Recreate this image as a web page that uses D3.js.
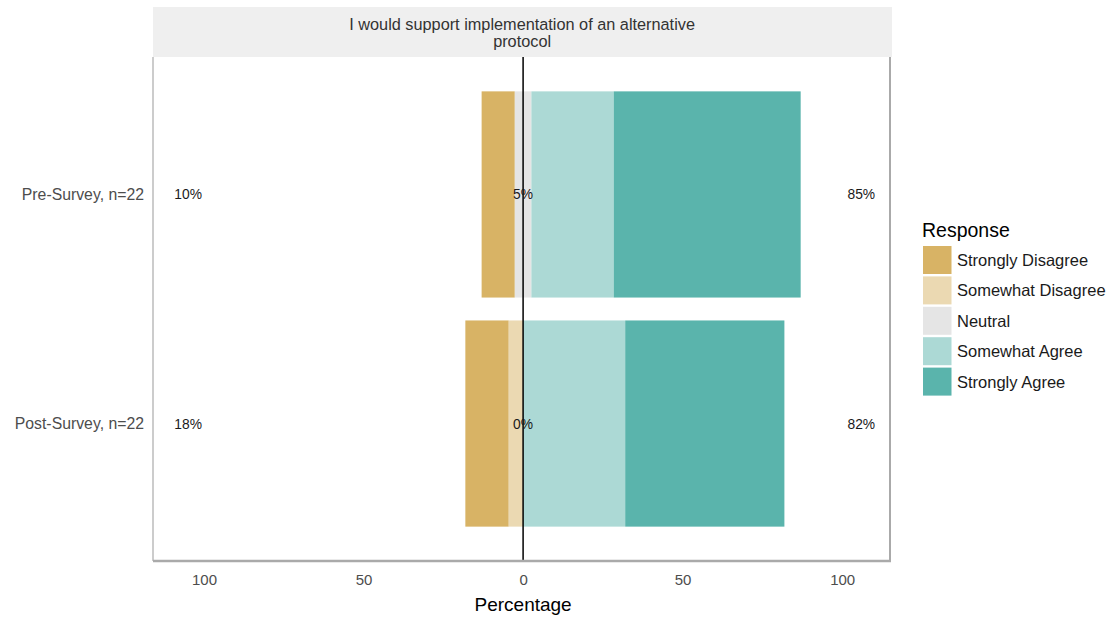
<!DOCTYPE html>
<html><head><meta charset="utf-8">
<script src="https://cdn.jsdelivr.net/npm/d3@7"></script>
<style>body{margin:0;background:#fff;} text{font-family:"Liberation Sans",Arial,sans-serif;}</style>
</head><body>
<svg id="c" width="1120" height="620"></svg>
<script>
const categories = ["Pre-Survey, n=22", "Post-Survey, n=22"];
const responses = ["Strongly Disagree","Somewhat Disagree","Neutral","Somewhat Agree","Strongly Agree"];
const colors = ["#D8B365","#EBD9B2","#E5E5E5","#ACD9D5","#5AB4AC"];
const stronglyDisagree = [10.4, 13.6];
const somewhatDisagree = [0, 4.5];
const neutral = [5.2, 0];
const somewhatAgree = [25.8, 32];
const stronglyAgree = [58.6, 49.9];
const lowLabels = ["10%","18%"];
const neutralLabels = ["5%","0%"];
const highLabels = ["85%","82%"];
const xTicks = [-100,-50,0,50,100];
const title = ["I would support implementation of an alternative","protocol"];

const svg = d3.select("#c");
const L = 153, R = 890, T = 57, B = 561;
const x = d3.scaleLinear().domain([-116, 115]).range([L, R]);
const y = d3.scaleBand().domain(categories).range([T, B]).paddingInner(0.1).paddingOuter(0.15);

function txt(px, py, str, size, fill, anchor) {
  return svg.append("text").attr("x", px).attr("y", py)
    .attr("text-anchor", anchor || "start").attr("fill", fill).style("font-size", size + "px").text(str);
}

// strip
svg.append("rect").attr("x", L).attr("y", 7).attr("width", R - L + 2).attr("height", T - 7).attr("fill", "#EFEFEF");
title.forEach((t, i) => txt(x(0) - 1, 30 + i * 17, t, 16.3, "#333", "middle"));

// bars
const series = [stronglyDisagree, somewhatDisagree, neutral, somewhatAgree, stronglyAgree];
categories.forEach((cat, ci) => {
  let start = -(series[0][ci] + series[1][ci] + series[2][ci]/2);
  series.forEach((s, si) => {
    const v = s[ci];
    if (v > 0) {
      svg.append("rect").attr("x", x(start)).attr("width", x(start + v) - x(start))
        .attr("y", y(cat)).attr("height", y.bandwidth()).attr("fill", colors[si]);
    }
    start += v;
  });
});

// zero line
svg.append("line").attr("x1", x(0)).attr("x2", x(0)).attr("y1", T).attr("y2", B).attr("stroke","#000").attr("stroke-width",1.5);

// panel border
svg.append("line").attr("x1", L).attr("x2", L).attr("y1", T).attr("y2", B).attr("stroke","#BBBBBB").attr("stroke-width",1.5);
svg.append("line").attr("x1", R).attr("x2", R).attr("y1", T).attr("y2", B).attr("stroke","#AAAAAA").attr("stroke-width",2);
svg.append("line").attr("x1", L).attr("x2", R+1).attr("y1", B).attr("y2", B).attr("stroke","#AAAAAA").attr("stroke-width",2.5);

// percent labels
categories.forEach((cat, ci) => {
  const cy = y(cat) + y.bandwidth()/2 + 5;
  [[-105, lowLabels[ci]],[0, neutralLabels[ci]],[106, highLabels[ci]]].forEach(([v,t]) => {
    txt(x(v), cy, t, 13.8, "#1a1a1a", "middle");
  });
});

// y axis labels
categories.forEach(cat => {
  txt(144, y(cat) + y.bandwidth()/2 + 5.5, cat, 15.8, "#4D4D4D", "end");
});

// x axis
const xAxis = d3.axisBottom(x).tickValues(xTicks).tickFormat(d => Math.abs(d)).tickSize(0).tickPadding(13);
const gx = svg.append("g").attr("transform", `translate(0,${B})`).call(xAxis);
gx.select(".domain").remove();
gx.selectAll("text").attr("fill","#4D4D4D")
  .style("font-size","15px").style("font-family","Liberation Sans, Arial, sans-serif");

txt(x(0), 611, "Percentage", 19, "#000", "middle");

// legend
txt(922, 237, "Response", 19.5, "#000");
responses.forEach((r, i) => {
  svg.append("rect").attr("x", 923).attr("y", 246 + i*30.4).attr("width", 28.5).attr("height", 28).attr("fill", colors[i]);
  txt(957, 266 + i*30.4, r, 16.5, "#1a1a1a");
});
</script>
</body></html>
